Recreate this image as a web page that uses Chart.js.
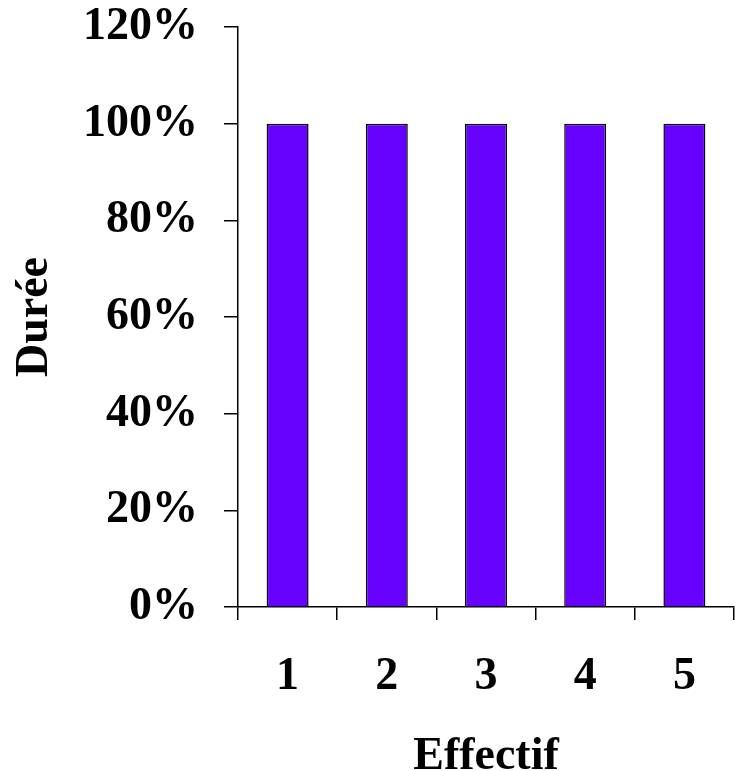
<!DOCTYPE html>
<html>
<head>
<meta charset="utf-8">
<script src="https://cdn.jsdelivr.net/npm/chart.js@4/dist/chart.umd.min.js"></script>
<style>
  html, body { margin: 0; padding: 0; background: #ffffff; }
  #wrap { width: 739px; height: 771px; position: relative; }
</style>
</head>
<body>
<div id="wrap"><canvas id="c" width="739" height="771"></canvas></div>
<script>
// Categories (effectif) and share of duration for each
const categories = ['1', '2', '3', '4', '5'];
const dureeValues = [1, 1, 1, 1, 1];
const yTickValues = [0, 0.2, 0.4, 0.6, 0.8, 1.0, 1.2];

const serif = "'Liberation Serif', 'Times New Roman', serif";
const bigFont = { family: serif, size: 46, weight: 'bold' };

new Chart(document.getElementById('c'), {
  type: 'bar',
  data: {
    labels: categories,
    datasets: [{
      label: 'Durée',
      data: dureeValues,
      backgroundColor: '#6600ff',
      borderColor: '#000000',
      borderWidth: 1.5,
      categoryPercentage: 1.0,
      barPercentage: 0.423
    }]
  },
  options: {
    responsive: false,
    animation: false,
    devicePixelRatio: 1,
    layout: { padding: { top: 27, right: 5, left: 0, bottom: 0 } },
    plugins: { legend: { display: false }, tooltip: { enabled: false } },
    scales: {
      x: {
        type: 'category',
        offset: true,
        grid: {
          offset: true,
          drawOnChartArea: false,
          drawTicks: true,
          tickLength: 13,
          color: '#000000',
          lineWidth: 1.5
        },
        border: { display: true, color: '#000000', width: 1.5 },
        ticks: { color: '#000000', font: bigFont, padding: 30, maxRotation: 0 },
        title: {
          display: true,
          text: 'Effectif',
          color: '#000000',
          font: Object.assign({}, bigFont, { lineHeight: 0.8 }),
          padding: { top: 0, bottom: -5 }
        },
        afterFit: (scale) => { scale.height = 771 - 607; }
      },
      y: {
        min: 0,
        max: 1.2,
        afterBuildTicks: (scale) => { scale.ticks = yTickValues.map(v => ({ value: v })); },
        grid: {
          drawOnChartArea: false,
          drawTicks: true,
          tickLength: 14,
          color: '#000000',
          lineWidth: 1.5
        },
        border: { display: true, color: '#000000', width: 1.5 },
        ticks: {
          color: '#000000',
          font: bigFont,
          padding: 26,
          callback: (v) => Math.round(v * 100) + '%'
        },
        title: {
          display: true,
          text: 'Durée',
          color: '#000000',
          font: bigFont,
          padding: { top: 8, bottom: 0 }
        },
        afterFit: (scale) => {
          scale.width = 238;
          scale.paddingTop = 0;
          scale.paddingBottom = 0;
        }
      }
    }
  }
});
</script>
</body>
</html>
